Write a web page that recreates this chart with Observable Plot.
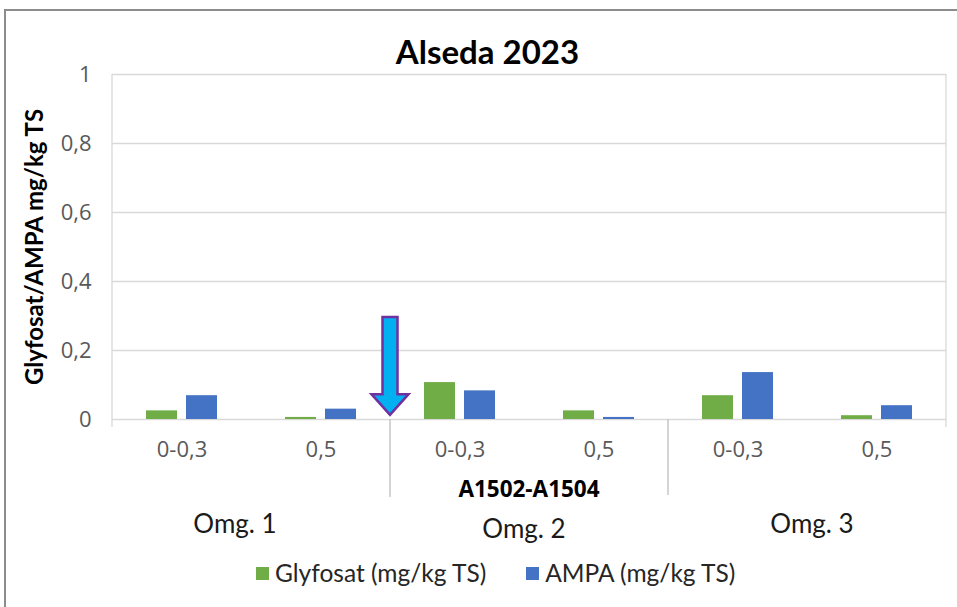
<!DOCTYPE html>
<html>
<head>
<meta charset="utf-8">
<script src="https://cdn.jsdelivr.net/npm/d3@7"></script>
<script src="https://cdn.jsdelivr.net/npm/@observablehq/plot@0.6"></script>
<style>
  html, body { margin: 0; padding: 0; background: #fff; }
  #wrap { position: relative; width: 957px; height: 607px; overflow: hidden; background: #fff; }
  #border { position: absolute; left: 4px; top: 9px; width: 1000px; height: 700px;
            border-left: 2px solid #8c8c8c; border-top: 2px solid #8c8c8c; box-sizing: border-box; }
  #chart { position: absolute; left: 0; top: 0; }
  #title { position: absolute; left: 0; width: 975px; top: 31px; text-align: center;
           font-family: Lato, sans-serif; font-weight: bold; font-size: 33px; color: #000; line-height: 40px; }
  .omg { position: absolute; transform: translateX(-50%); font-family: Lato, sans-serif;
         font-size: 26px; color: #1a1a1a; white-space: nowrap; line-height: 30px; }
  #legend { position: absolute; left: 256px; top: 559px; display: flex; gap: 40px;
            font-family: Lato, sans-serif; font-size: 24.5px; color: #262626; line-height: 28px; }
  .item { display: flex; align-items: center; gap: 6px; white-space: nowrap; }
  .sw { width: 13px; height: 13px; display: inline-block; }
</style>
</head>
<body>
<div id="wrap">
  <div id="border"></div>
  <div id="chart"></div>
  <div id="title">Alseda 2023</div>
  <div id="omgs"></div>
  <div id="legend"></div>
</div>
<script>
// ---- data ----
const depths = ["0-0,3", "0,5", "0-0,3", "0,5", "0-0,3", "0,5"];
const groups = ["Omg. 1", "Omg. 1", "Omg. 2", "Omg. 2", "Omg. 3", "Omg. 3"];
const seriesNames = ["Glyfosat (mg/kg TS)", "AMPA (mg/kg TS)"];
const glyfosat = [0.025, 0.006, 0.107, 0.025, 0.069, 0.011];
const ampa = [0.069, 0.030, 0.083, 0.006, 0.136, 0.040];
const seriesColors = ["#70ad47", "#4472c4"];
const yTicks = [0, 0.2, 0.4, 0.6, 0.8, 1];
const yLabel = "Glyfosat/AMPA mg/kg TS";
const groupLabel = "A1502-A1504";
const omgLabels = ["Omg. 1", "Omg. 2", "Omg. 3"];
// arrow annotation (value levels)
const arrowTop = 0.296, arrowHeadBase = 0.072, arrowTip = 0.012;

const keys = depths.map((d, i) => i);
const rows = keys.flatMap(i => [
  {key: i, series: seriesNames[0], value: glyfosat[i]},
  {key: i, series: seriesNames[1], value: ampa[i]}
]);
const fmt = d => String(d).replace(".", ",");

const chart = Plot.plot({
  width: 957,
  height: 607,
  marginLeft: 111,
  marginRight: 11,
  marginTop: 74,
  marginBottom: 188,
  style: {fontFamily: "'Open Sans', sans-serif", fontSize: "22px", color: "#595959", background: "transparent"},
  fx: {domain: keys, paddingInner: 0, paddingOuter: 0, axis: "bottom", tickSize: 0, tickPadding: 22,
       tickFormat: i => depths[i], label: null},
  x: {domain: seriesNames, paddingInner: 0.225, paddingOuter: 0.85, axis: null},
  y: {domain: [0, 1], axis: null},
  color: {domain: seriesNames, range: seriesColors},
  marks: [
    Plot.gridY(yTicks, {stroke: "#d9d9d9", strokeOpacity: 1, strokeWidth: 1.3}),
    Plot.barY(rows, {fx: "key", x: "series", y: "value", fill: "series"}),
    Plot.axisY(yTicks, {tickSize: 0, tickPadding: 21, tickFormat: fmt, label: null, fill: "#595959"}),
    Plot.axisY({ticks: [], label: yLabel, labelAnchor: "center", labelOffset: 87, labelArrow: "none",
                fontSize: 24, fontWeight: "bold", fill: "#000", fontFamily: "Lato, sans-serif"})
  ]
});
document.getElementById("chart").appendChild(chart);

// ---- annotations using the plot's own scales ----
const fxs = chart.scale("fx");
const ys = chart.scale("y");
const bw = fxs.bandwidth;
const y0 = ys.apply(0), y1 = ys.apply(1);
const left = fxs.apply(0), right = fxs.apply(keys.length - 1) + bw;
const svg = d3.select(chart);
const g = svg.append("g");
// frame sides
g.append("line").attr("x1", left).attr("x2", left).attr("y1", y1).attr("y2", y0 + 8)
  .attr("stroke", "#d9d9d9").attr("stroke-width", 1.3);
g.append("line").attr("x1", right).attr("x2", right).attr("y1", y1).attr("y2", y0 + 8)
  .attr("stroke", "#d9d9d9").attr("stroke-width", 1.3);
// group boundaries
[2, 4].forEach((k, j) => {
  const x = fxs.apply(k);
  g.append("line").attr("x1", x).attr("x2", x).attr("y1", y0).attr("y2", y0 + 78 - j * 2)
    .attr("stroke", "#bfbfbf").attr("stroke-width", 1.3);
});
// middle group label
g.append("text")
  .attr("x", (fxs.apply(2) + fxs.apply(3) + bw) / 2)
  .attr("y", y0 + 78)
  .attr("text-anchor", "middle")
  .attr("font-family", "'Open Sans', sans-serif")
  .attr("font-weight", "bold").attr("font-size", 22.5).attr("fill", "#000")
  .text(groupLabel);
// arrow
const cx = fxs.apply(2), ht = ys.apply(arrowTop), hb = ys.apply(arrowHeadBase), tip = ys.apply(arrowTip);
const sw = 7.5, hw = 18.5;
g.append("polygon")
  .attr("points", [[cx - sw, ht], [cx + sw, ht], [cx + sw, hb], [cx + hw, hb], [cx, tip], [cx - hw, hb], [cx - sw, hb]].map(p => p.join(",")).join(" "))
  .attr("fill", "#00b0f0").attr("stroke", "#7030a0").attr("stroke-width", 2.5).attr("stroke-linejoin", "miter");

// ---- Omg labels (text boxes below the axis) ----
const omgPos = [[235, 508], [524, 513], [812, 508]];
const omgs = document.getElementById("omgs");
omgLabels.forEach((t, i) => {
  const d = document.createElement("div");
  d.className = "omg"; d.textContent = t;
  d.style.left = omgPos[i][0] + "px"; d.style.top = omgPos[i][1] + "px";
  omgs.appendChild(d);
});

// ---- legend ----
const lg = document.getElementById("legend");
seriesNames.forEach((s, i) => {
  const it = document.createElement("div"); it.className = "item";
  const sq = document.createElement("span"); sq.className = "sw"; sq.style.background = seriesColors[i];
  const tx = document.createElement("span"); tx.textContent = s;
  it.appendChild(sq); it.appendChild(tx); lg.appendChild(it);
});
</script>
</body>
</html>
